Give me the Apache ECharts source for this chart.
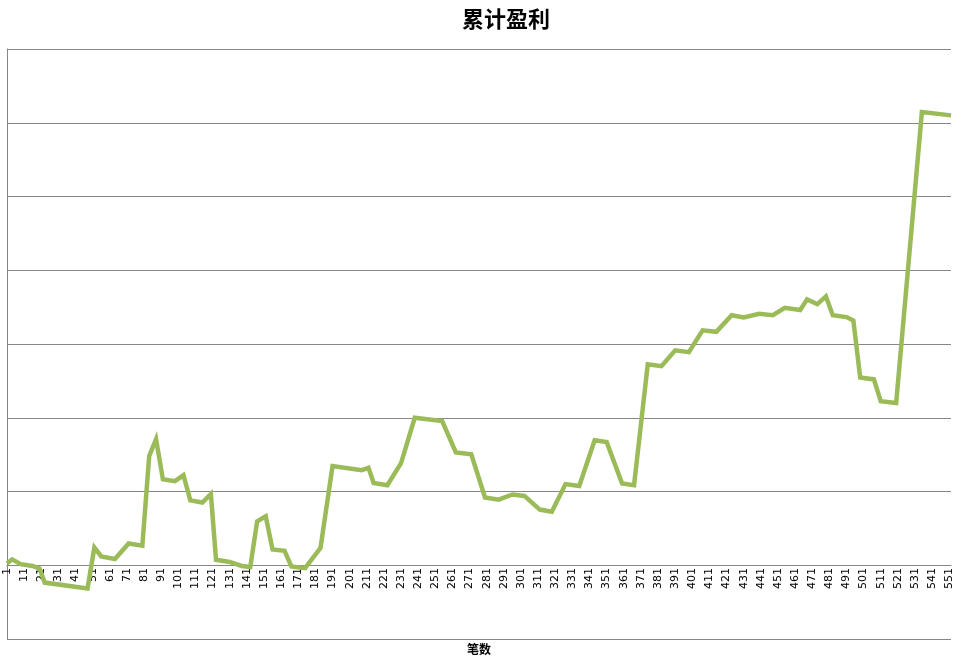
<!DOCTYPE html>
<html>
<head>
<meta charset="utf-8">
<script src="https://cdn.jsdelivr.net/npm/echarts@6/dist/echarts.min.js"></script>
<style>html,body{margin:0;padding:0;background:#fff;}#c{width:964px;height:667px;}</style>
</head>
<body>
<div id="c"></div>
<script>
// Trade numbers (category) at which the cumulative curve has a vertex
var tradeNo = [1,4,9,16,20,23,48,52,56,64,72,80,84,88,92,99,104,108,115,120,123,131,138,143,147,152,156,163,167,175,184,191,208,212,215,223,231,239,255,263,272,280,288,296,303,312,319,327,335,344,351,360,367,375,383,391,399,407,415,424,431,440,448,455,464,468,474,479,483,491,495,499,507,511,520,535,552];
// Cumulative profit at those trades
var profit = [25,80,15,-10,-45,-235,-315,240,120,85,295,265,1480,1710,1165,1140,1220,880,850,965,75,45,-10,-25,595,665,215,195,-15,-40,235,1345,1290,1320,1115,1085,1385,2000,1955,1530,1505,920,890,960,940,755,725,1100,1075,1695,1670,1110,1085,2725,2700,2915,2890,3185,3165,3390,3360,3410,3390,3490,3460,3605,3540,3645,3390,3365,3320,2545,2520,2225,2200,6145,6100];
var totalTrades = 552;
var categories = [];
for (var i = 1; i <= totalTrades; i++) categories.push(String(i));

var seriesData = tradeNo.map(function (t, i) { return [t - 1, profit[i]]; });

var chart = echarts.init(document.getElementById('c'));
chart.setOption({
  animation: false,
  backgroundColor: '#fff',
  title: {
    text: '累计盈利',
    left: 457, top: 3,
    textStyle: { fontFamily: 'Noto Sans CJK SC', fontSize: 22, fontWeight: 'bold', color: '#000' }
  },
  grid: { left: 7, right: 13, top: 49, bottom: 28, containLabel: false, outerBoundsMode: 'none' },
  xAxis: {
    type: 'category',
    data: categories,
    boundaryGap: false,
    offset: -74,
    name: '笔数',
    nameLocation: 'middle',
    nameGap: 78,
    nameTextStyle: { fontFamily: 'Noto Sans CJK SC', fontSize: 12, fontWeight: 'bold', color: '#000' },
    axisLine: { onZero: false, lineStyle: { color: '#868686', width: 1 } },
    axisTick: { show: false },
    axisLabel: { interval: 9, rotate: 90, fontFamily: 'DejaVu Sans', fontSize: 11, color: '#000', margin: 3 },
    splitLine: { show: false }
  },
  yAxis: {
    type: 'value',
    min: -1000, max: 7000, interval: 1000,
    axisLine: { show: true, lineStyle: { color: '#868686', width: 1 } },
    axisTick: { show: false },
    axisLabel: { show: false },
    splitLine: { show: true, lineStyle: { color: '#868686', width: 1 } }
  },
  series: [{
    type: 'line',
    data: seriesData,
    showSymbol: false,
    symbol: 'none',
    lineStyle: { color: '#9BBB59', width: 4.5, join: 'miter' },
    itemStyle: { color: '#9BBB59' }
  }]
});
</script>
</body>
</html>
